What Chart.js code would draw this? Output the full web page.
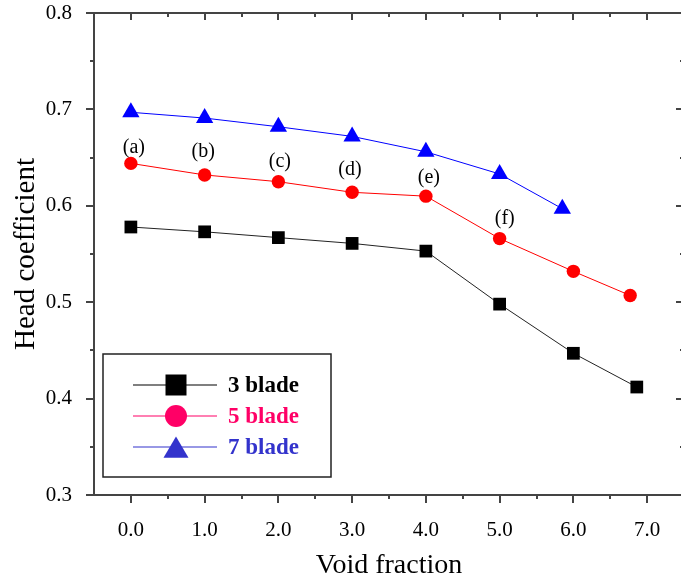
<!DOCTYPE html>
<html>
<head>
<meta charset="utf-8">
<title>Head coefficient vs void fraction</title>
<script src="https://cdn.jsdelivr.net/npm/chart.js@4.4.1/dist/chart.umd.min.js"></script>
<style>
  html, body { margin: 0; padding: 0; overflow: hidden; background: #fff; }
  #wrap { width: 686px; height: 586px; }
</style>
</head>
<body>
<div id="wrap"><canvas id="chart" width="686" height="586"></canvas></div>
<script>
// data
const void3 = [0, 1, 2, 3, 4, 5, 6, 6.86];
const head3 = [0.578, 0.573, 0.567, 0.561, 0.553, 0.498, 0.447, 0.412];
const void5 = [0, 1, 2, 3, 4, 5, 6, 6.77];
const head5 = [0.644, 0.632, 0.625, 0.614, 0.610, 0.566, 0.532, 0.507];
const void7 = [0, 1, 2, 3, 4, 5, 5.85];
const head7 = [0.697, 0.691, 0.682, 0.672, 0.656, 0.633, 0.597];
const seriesNames = ['3 blade', '5 blade', '7 blade'];

const xTicks = [0, 1, 2, 3, 4, 5, 6, 7];
const yTicks = [0.3, 0.4, 0.5, 0.6, 0.7, 0.8];

// case labels over the 5 blade curve
const noteText = ['(a)', '(b)', '(c)', '(d)', '(e)', '(f)'];
const noteX = [0.04, 0.98, 2.02, 2.97, 4.04, 5.07];
const noteY = [0.6605, 0.6558, 0.6462, 0.6375, 0.629, 0.5863];

const SERIF = '"Liberation Serif", "Times New Roman", serif';
const AXIS_COLOR = '#444';

function toPoints(xs, ys) {
    return xs.map((x, i) => ({ x: x, y: ys[i] }));
}

function drawMarker(ctx, style, x, y, size, color) {
    ctx.fillStyle = color;
    ctx.beginPath();
    if (style === 'rect') {
        ctx.rect(x - size / 2, y - size / 2, size, size);
    } else if (style === 'circle') {
        ctx.arc(x, y, size / 2, 0, Math.PI * 2);
    } else {
        const h = size * 0.85;
        ctx.moveTo(x, y - h / 2);
        ctx.lineTo(x + size / 2, y + h / 2);
        ctx.lineTo(x - size / 2, y + h / 2);
        ctx.closePath();
    }
    ctx.fill();
}

// keep the plot frame where the figure has it (no label padding)
function noPadding(s) {
    s.paddingTop = 0;
    s.paddingBottom = 0;
    s.paddingLeft = 0;
    s.paddingRight = 0;
}

// frame with inward ticks on top/right, outward on left/bottom
const framePlugin = {
    id: 'frame',
    beforeDatasetsDraw(chart) {
        const { ctx, chartArea: a, scales } = chart;
        const xs = scales.x, ys = scales.y;
        ctx.save();
        ctx.strokeStyle = AXIS_COLOR;
        ctx.lineWidth = 2;
        ctx.strokeRect(a.left, a.top, a.right - a.left, a.bottom - a.top);

        ctx.beginPath();
        xTicks.forEach(v => {
            const px = Math.round(xs.getPixelForValue(v));
            ctx.moveTo(px, a.bottom); ctx.lineTo(px, a.bottom + 8);
            ctx.moveTo(px, a.top); ctx.lineTo(px, a.top + 7);
            const m = Math.round(xs.getPixelForValue(v + 0.5));
            ctx.moveTo(m, a.bottom); ctx.lineTo(m, a.bottom + 4);
            ctx.moveTo(m, a.top); ctx.lineTo(m, a.top + 4);
        });
        yTicks.forEach((v, i) => {
            const py = Math.round(ys.getPixelForValue(v));
            ctx.moveTo(a.left, py); ctx.lineTo(a.left - 8, py);
            ctx.moveTo(a.right, py); ctx.lineTo(a.right - 8, py);
            if (i < yTicks.length - 1) {
                const m = Math.round(ys.getPixelForValue(v + 0.05));
                ctx.moveTo(a.left, m); ctx.lineTo(a.left - 4, m);
                ctx.moveTo(a.right, m); ctx.lineTo(a.right - 4, m);
            }
        });
        ctx.stroke();
        ctx.restore();
    },
    afterDatasetsDraw(chart) {
        const { ctx, chartArea: a, scales } = chart;
        ctx.save();

        // case labels
        ctx.fillStyle = '#000';
        ctx.font = '20px ' + SERIF;
        ctx.textAlign = 'center';
        ctx.textBaseline = 'middle';
        noteText.forEach((t, i) => {
            ctx.fillText(t, scales.x.getPixelForValue(noteX[i]), scales.y.getPixelForValue(noteY[i]));
        });

        // legend box
        const bx = a.left + 9, by = a.bottom - 141;
        ctx.fillStyle = '#fff';
        ctx.fillRect(bx, by, 228, 123);
        ctx.strokeStyle = '#222';
        ctx.lineWidth = 1.5;
        ctx.strokeRect(bx, by, 228, 123);

        const legendColors = ['#000', '#ff0066', '#3333cc'];
        const legendStyles = ['rect', 'circle', 'triangle'];
        const legendSizes = [21, 22, 25];
        ctx.font = 'bold 23px ' + SERIF;
        ctx.textAlign = 'left';
        seriesNames.forEach((name, i) => {
            const ry = by + 31 + i * 31;
            ctx.strokeStyle = legendColors[i];
            ctx.lineWidth = 1.2;
            ctx.beginPath();
            ctx.moveTo(bx + 30, ry);
            ctx.lineTo(bx + 114, ry);
            ctx.stroke();
            drawMarker(ctx, legendStyles[i], bx + 73, ry, legendSizes[i], legendColors[i]);
            ctx.fillStyle = legendColors[i];
            ctx.fillText(name, bx + 125, ry + 1);
        });
        ctx.restore();
    }
};

const tickFont = { family: SERIF, size: 21 };

const ctx = document.getElementById('chart').getContext('2d');
new Chart(ctx, {
    type: 'scatter',
    data: {
        datasets: [
            {
                label: seriesNames[0],
                data: toPoints(void3, head3),
                showLine: true,
                borderColor: '#222',
                borderWidth: 1,
                backgroundColor: '#000',
                pointStyle: 'rect',
                pointRadius: 9,
                pointBorderWidth: 0
            },
            {
                label: seriesNames[1],
                data: toPoints(void5, head5),
                showLine: true,
                borderColor: '#ff0000',
                borderWidth: 1,
                backgroundColor: '#ff0000',
                pointStyle: 'circle',
                pointRadius: 6.7,
                pointBorderWidth: 0
            },
            {
                label: seriesNames[2],
                data: toPoints(void7, head7),
                showLine: true,
                borderColor: '#0000ff',
                borderWidth: 1,
                backgroundColor: '#0000ff',
                pointStyle: 'triangle',
                pointRadius: 10,
                pointBorderWidth: 0
            }
        ]
    },
    options: {
        responsive: false,
        animation: false,
        events: [],
        layout: {
            autoPadding: false,
            padding: { top: 13, right: 2, left: 0, bottom: 0 }
        },
        plugins: {
            legend: { display: false },
            tooltip: { enabled: false }
        },
        scales: {
            x: {
                type: 'linear',
                min: -0.5,
                max: 7.5,
                afterBuildTicks: s => { s.ticks = xTicks.map(v => ({ value: v })); },
                afterFit: s => { s.height = 91; noPadding(s); },
                grid: { display: false, drawTicks: false },
                border: { display: false },
                ticks: {
                    font: tickFont,
                    color: '#000',
                    padding: 23,
                    maxRotation: 0,
                    autoSkip: false,
                    callback: v => v.toFixed(1)
                },
                title: {
                    display: true,
                    text: 'Void fraction',
                    color: '#000',
                    font: { family: SERIF, size: 28 },
                    padding: { top: 0, bottom: 4 }
                }
            },
            y: {
                type: 'linear',
                min: 0.3,
                max: 0.8,
                afterBuildTicks: s => { s.ticks = yTicks.map(v => ({ value: v })); },
                afterFit: s => { s.width = 94; noPadding(s); },
                grid: { display: false, drawTicks: false },
                border: { display: false },
                ticks: {
                    font: tickFont,
                    color: '#000',
                    padding: 22,
                    callback: v => v.toFixed(1)
                },
                title: {
                    display: true,
                    text: 'Head coefficient',
                    color: '#000',
                    font: { family: SERIF, size: 29 },
                    padding: { top: 9, bottom: 0 }
                }
            }
        }
    },
    plugins: [framePlugin]
});
</script>
</body>
</html>
